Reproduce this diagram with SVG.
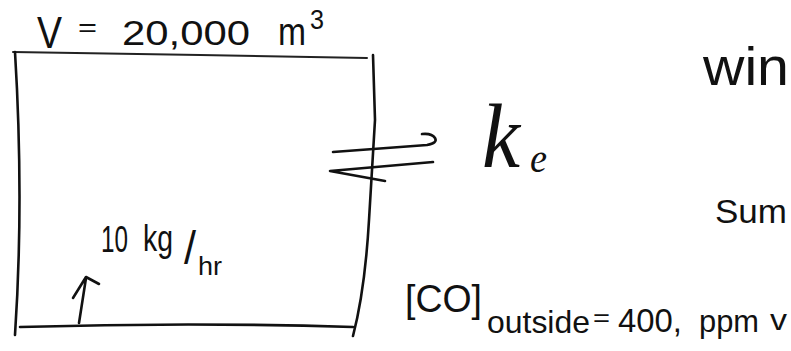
<svg xmlns="http://www.w3.org/2000/svg" width="791" height="351" viewBox="0 0 791 351">
<style>
.ink{fill:none;stroke:#111;stroke-width:2.6;stroke-linecap:round;stroke-linejoin:round}
.thin{fill:none;stroke:#222;stroke-width:2;stroke-linecap:round}
.t{font-family:"Liberation Sans",Arial,sans-serif;fill:#111}
.s{font-family:"Liberation Serif","Times New Roman",serif;font-style:italic;fill:#111}
</style>
<rect width="791" height="351" fill="#fff"/>
<g id="room">
  <path class="thin" d="M13,52 L200,55 L367,58"/>
  <path class="ink" d="M15,52 Q24,200 15,335"/>
  <path class="ink" d="M373,55 L375,120 L369,220 Q365,290 353,336"/>
  <path class="ink" d="M20,327 Q190,322 353,327"/>
</g>
<g id="volume-label">
  <text class="t"><tspan x="37" y="48" font-size="44" textLength="25" lengthAdjust="spacingAndGlyphs">V</tspan><tspan x="78" y="36" font-size="26" textLength="19" lengthAdjust="spacingAndGlyphs">=</tspan><tspan x="122" y="45" font-size="35" textLength="128" lengthAdjust="spacingAndGlyphs">20,000</tspan><tspan x="278" y="45" font-size="38" textLength="28" lengthAdjust="spacingAndGlyphs">m</tspan><tspan x="310" y="29" font-size="28" textLength="14" lengthAdjust="spacingAndGlyphs">3</tspan></text>
</g>
<g id="source-label">
  <text class="t"><tspan x="101" y="252" font-size="36" textLength="27" lengthAdjust="spacingAndGlyphs">10</tspan><tspan x="143" y="251" font-size="36" textLength="30" lengthAdjust="spacingAndGlyphs">kg</tspan><tspan x="184" y="264" font-size="46" textLength="12" lengthAdjust="spacingAndGlyphs">/</tspan><tspan x="198" y="275" font-size="26" textLength="24" lengthAdjust="spacingAndGlyphs">hr</tspan></text>
</g>
<g id="ke-label">
  <text class="s"><tspan x="482" y="167" font-size="90" textLength="38" lengthAdjust="spacingAndGlyphs">k</tspan><tspan x="530" y="172" font-size="42" textLength="17" lengthAdjust="spacingAndGlyphs">e</tspan></text>
</g>
<g id="win-label">
  <text class="t" x="703" y="85" font-size="54" textLength="86" lengthAdjust="spacingAndGlyphs">win</text>
</g>
<g id="sum-label">
  <text class="t" x="715" y="223" font-size="33" textLength="72" lengthAdjust="spacingAndGlyphs">Sum</text>
</g>
<g id="co-label">
  <text class="t"><tspan x="405" y="312" font-size="38" textLength="77" lengthAdjust="spacingAndGlyphs">[CO]</tspan><tspan x="487" y="333" font-size="32" textLength="103" lengthAdjust="spacingAndGlyphs">outside</tspan><tspan x="593" y="326" font-size="24" textLength="17" lengthAdjust="spacingAndGlyphs">=</tspan><tspan x="618" y="332" font-size="34" textLength="64" lengthAdjust="spacingAndGlyphs">400,</tspan><tspan x="699" y="332" font-size="32" textLength="60" lengthAdjust="spacingAndGlyphs">ppm</tspan><tspan x="770" y="330" font-size="30" textLength="17" lengthAdjust="spacingAndGlyphs">v</tspan></text>
</g>
<g id="connectors">
  <path class="ink" d="M79,323 L86,278 M73,298 L86,277 L99,284"/>
  <path class="ink" d="M333,152 L427,145 Q438,143 435,138 Q432,133 422,134"/>
  <path class="ink" d="M433,162 L330,171 L385,181"/>
</g>
</svg>
